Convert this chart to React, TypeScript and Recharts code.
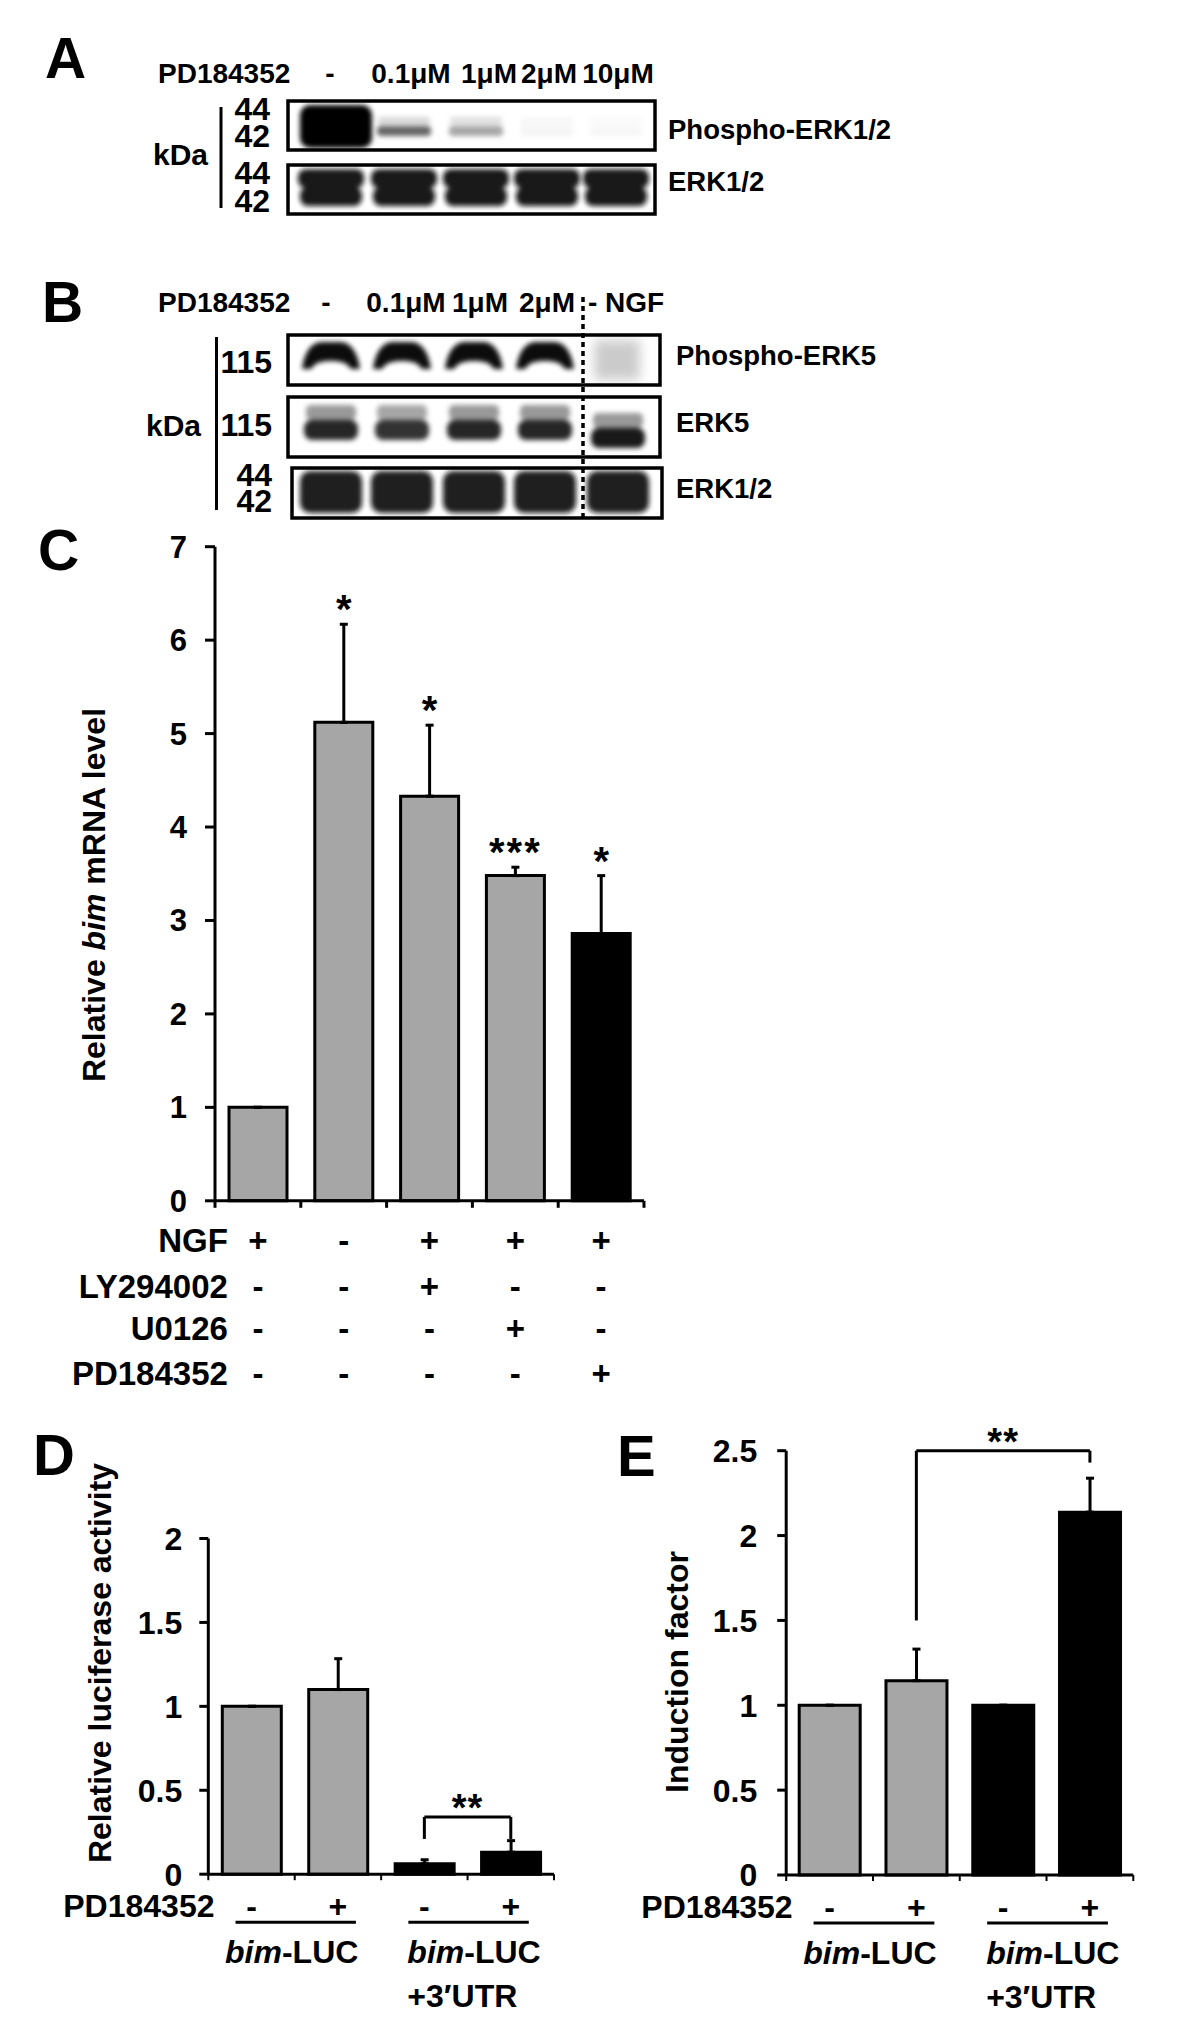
import React from "react";
import {
  ComposedChart,
  Bar,
  XAxis,
  YAxis,
  ErrorBar,
  Cell,
  LabelList,
  ReferenceLine,
} from "recharts";

const FONT = "'Liberation Sans', Arial, Helvetica, sans-serif";
const GREY = "#a6a6a6";
const INK = "#000";

// ---- panel A / B blots ----
const laneLabelsA = ["-", "0.1μM", "1μM", "2μM", "10μM"];
const laneLabelsB = ["-", "0.1μM", "1μM", "2μM"];
const pErk12Upper = [1, 0.15, 0.12, 0.03, 0.02];
const pErk12Lower = [1, 0.6, 0.35, 0.04, 0.03];
const erk12A = [0.95, 0.95, 0.95, 0.95, 0.95];
const pErk5 = [0.95, 0.95, 0.95, 0.95, 0.2];
const erk5Upper = [0.4, 0.35, 0.4, 0.4, 0.4];
const erk5Lower = [0.85, 0.8, 0.85, 0.85, 0.9];
const erk12B = [0.92, 0.92, 0.92, 0.92, 0.92];

// ---- panel C ----
const cKeys = ["c1", "c2", "c3", "c4", "c5"];
const cMean = [1, 5.12, 4.33, 3.48, 2.86];
const cErr = [0, 1.05, 0.76, 0.09, 0.62];
const cSig = ["", "*", "*", "***", "*"];
const cFill = [GREY, GREY, GREY, GREY, INK];
const cRowLabels = ["NGF", "LY294002", "U0126", "PD184352"];
const cNGF = ["+", "-", "+", "+", "+"];
const cLY = ["-", "-", "+", "-", "-"];
const cU0126 = ["-", "-", "-", "+", "-"];
const cPD = ["-", "-", "-", "-", "+"];
const cTicks = [0, 1, 2, 3, 4, 5, 6, 7];

// ---- panel D ----
const dKeys = ["d1", "d2", "d3", "d4"];
const dMean = [1, 1.1, 0.062, 0.131];
const dErr = [0, 0.184, 0.024, 0.069];
const dTicks = [0, 0.5, 1, 1.5, 2];

// ---- panel E ----
const eKeys = ["e1", "e2", "e3", "e4"];
const eMean = [1, 1.145, 1, 2.138];
const eErr = [0, 0.186, 0, 0.2];
const eTicks = [0, 0.5, 1, 1.5, 2, 2.5];

// shared D/E
const lucFill = [GREY, GREY, INK, INK];
const lucPD = ["-", "+", "-", "+"];
const lucGroupItalic = ["bim", "bim"];
const lucGroupRest = ["-LUC", "-LUC"];
const lucGroupSub = ["", "+3′UTR"];

const cData = cKeys.map((k, i) => ({ key: k, mean: cMean[i], err: [0, cErr[i]], sig: cSig[i] }));
const dData = dKeys.map((k, i) => ({ key: k, mean: dMean[i], err: [0, dErr[i]] }));
const eData = eKeys.map((k, i) => ({ key: k, mean: eMean[i], err: [0, eErr[i]] }));

const txt = { fontFamily: FONT, fontWeight: 700, fill: INK } as const;

// C: plot 215..644 wide, 5 bands
const C_HALF = (644 - 215) / 5 / 2;
const cRowDy = [51, 97, 139, 184];
const cRows = [cNGF, cLY, cU0126, cPD];

function CTick(props: any) {
  const { x, y } = props;
  const i = props.index ?? props.payload?.index ?? 0;
  return (
    <g>
      <line x1={x - C_HALF} x2={x - C_HALF} y1={y} y2={y + 7} stroke={INK} strokeWidth={3} />
      {i === cKeys.length - 1 && (
        <line x1={x + C_HALF} x2={x + C_HALF} y1={y} y2={y + 7} stroke={INK} strokeWidth={3} />
      )}
      {cRows.map((row, r) => (
        <text key={r} x={x} y={y + cRowDy[r]} textAnchor="middle" fontSize={33} {...txt}>
          {row[i]}
        </text>
      ))}
      {i === 0 &&
        cRowLabels.map((l, r) => (
          <text key={"l" + r} x={x - 30} y={y + cRowDy[r]} textAnchor="end" fontSize={33} {...txt}>
            {l}
          </text>
        ))}
    </g>
  );
}

function makeLucTick(half: number) {
  return function LucTick(props: any) {
    const { x, y } = props;
    const i = props.index ?? props.payload?.index ?? 0;
    const band = half * 2;
    const g = Math.floor(i / 2);
    return (
      <g>
        <line x1={x - half} x2={x - half} y1={y} y2={y + 6} stroke={INK} strokeWidth={2} />
        {i === 3 && <line x1={x + half} x2={x + half} y1={y} y2={y + 6} stroke={INK} strokeWidth={2} />}
        <text x={x} y={y + 42.5} textAnchor="middle" fontSize={32} {...txt}>
          {lucPD[i]}
        </text>
        {i === 0 && (
          <text x={x - 37} y={y + 42.5} textAnchor="end" fontSize={32} {...txt}>
            PD184352
          </text>
        )}
        {i % 2 === 1 && (
          <line x1={x - band - 16} x2={x + 18} y1={y + 48} y2={y + 48} stroke={INK} strokeWidth={3} />
        )}
        {i === 1 && (
          <text x={x - half - 3} y={y + 89} textAnchor="middle" fontSize={32} {...txt}>
            <tspan fontStyle="italic">{lucGroupItalic[g]}</tspan>
            {lucGroupRest[g]}
          </text>
        )}
        {i === 3 && (
          <g>
            <text x={x - band - 17} y={y + 89} textAnchor="start" fontSize={32} {...txt}>
              <tspan fontStyle="italic">{lucGroupItalic[g]}</tspan>
              {lucGroupRest[g]}
            </text>
            <text x={x - band - 17} y={y + 133} textAnchor="start" fontSize={32} {...txt}>
              {lucGroupSub[g]}
            </text>
          </g>
        )}
      </g>
    );
  };
}

const DTick = makeLucTick((554 - 208.3) / 4 / 2);
const ETick = makeLucTick((533.3 - 186.2) / 4 / 2);

function starLabel(p: any) {
  const vb = p.viewBox ?? p;
  const x = vb.x ?? p.x;
  const y = vb.y ?? p.y;
  const width = vb.width ?? p.width;
  const height = vb.height ?? p.height;
  const i = p.index;
  if (!p.value) return null;
  const errPx = (cErr[i] / cMean[i]) * height;
  return (
    <text
      x={x + width / 2}
      y={y - errPx - 1}
      textAnchor="middle"
      fontSize={40}
      letterSpacing={p.value.length > 1 ? 2 : 0}
      {...txt}
    >
      {p.value}
    </text>
  );
}

const axisStyle = { stroke: INK, strokeWidth: 3 };

function ChartC() {
  return (
    <ComposedChart width={700} height={910} data={cData} margin={{ top: 46.7, right: 56, bottom: 0, left: 0 }}>
      <XAxis
        dataKey="key"
        interval={0}
        height={209.2}
        axisLine={axisStyle}
        tickLine={false}
        tickSize={0}
        tickMargin={0}
        tick={<CTick />}
      />
      <YAxis
        domain={[0, 7]}
        ticks={cTicks}
        interval={0}
        width={215}
        axisLine={axisStyle}
        tickLine={axisStyle}
        tickSize={10}
        tickMargin={18}
        tick={{ ...txt, fontSize: 31 }}
      />
      <Bar dataKey="mean" barSize={58} stroke={INK} strokeWidth={3} isAnimationActive={false}>
        {cData.map((d, i) => (
          <Cell key={d.key} fill={cFill[i]} />
        ))}
        <ErrorBar dataKey="err" direction="y" width={4} stroke={INK} strokeWidth={3} isAnimationActive={false} />
        <LabelList dataKey="sig" content={starLabel} />
      </Bar>
    </ComposedChart>
  );
}

const starText = { ...txt, fontSize: 38, letterSpacing: 1 };

function ChartD() {
  return (
    <ComposedChart width={600} height={626} data={dData} margin={{ top: 138.5, right: 46, bottom: 0, left: 0 }}>
      <XAxis
        dataKey="key"
        interval={0}
        height={151.8}
        axisLine={axisStyle}
        tickLine={false}
        tickSize={0}
        tickMargin={0}
        tick={<DTick />}
      />
      <YAxis
        domain={[0, 2]}
        ticks={dTicks}
        interval={0}
        width={208.3}
        axisLine={axisStyle}
        tickLine={axisStyle}
        tickSize={9}
        tickMargin={17}
        tick={{ ...txt, fontSize: 32 }}
      />
      <Bar dataKey="mean" barSize={59} stroke={INK} strokeWidth={3} isAnimationActive={false}>
        {dData.map((d, i) => (
          <Cell key={d.key} fill={lucFill[i]} />
        ))}
        <ErrorBar dataKey="err" direction="y" width={4} stroke={INK} strokeWidth={3} isAnimationActive={false} />
      </Bar>
      <ReferenceLine
        segment={[{ x: "d3", y: 0.341 }, { x: "d4", y: 0.341 }]}
        stroke={INK}
        strokeWidth={3}
        label={{ value: "**", position: "top", offset: -4, ...starText }}
      />
      <ReferenceLine segment={[{ x: "d3", y: 0.21 }, { x: "d3", y: 0.341 }]} stroke={INK} strokeWidth={3} />
      <ReferenceLine segment={[{ x: "d4", y: 0.21 }, { x: "d4", y: 0.341 }]} stroke={INK} strokeWidth={3} />
    </ComposedChart>
  );
}

function ChartE() {
  return (
    <ComposedChart width={600} height={626} data={eData} margin={{ top: 50.7, right: 66.7, bottom: 0, left: 0 }}>
      <XAxis
        dataKey="key"
        interval={0}
        height={151}
        axisLine={axisStyle}
        tickLine={false}
        tickSize={0}
        tickMargin={0}
        tick={<ETick />}
      />
      <YAxis
        domain={[0, 2.5]}
        ticks={eTicks}
        interval={0}
        width={186.2}
        axisLine={axisStyle}
        tickLine={axisStyle}
        tickSize={9}
        tickMargin={20}
        tick={{ ...txt, fontSize: 32 }}
      />
      <Bar dataKey="mean" barSize={61} stroke={INK} strokeWidth={3} isAnimationActive={false}>
        {eData.map((d, i) => (
          <Cell key={d.key} fill={lucFill[i]} />
        ))}
        <ErrorBar dataKey="err" direction="y" width={4} stroke={INK} strokeWidth={3} isAnimationActive={false} />
      </Bar>
      <ReferenceLine
        segment={[{ x: "e2", y: 2.5 }, { x: "e4", y: 2.5 }]}
        stroke={INK}
        strokeWidth={3}
        ifOverflow="visible"
        label={{ value: "**", position: "top", offset: -4, ...starText }}
      />
      <ReferenceLine segment={[{ x: "e2", y: 1.5 }, { x: "e2", y: 2.5 }]} stroke={INK} strokeWidth={3} />
      <ReferenceLine segment={[{ x: "e4", y: 2.43 }, { x: "e4", y: 2.5 }]} stroke={INK} strokeWidth={3} ifOverflow="visible" />
    </ComposedChart>
  );
}

// lane centres (layout only)
const laneXA = [331, 404, 476, 547, 616];
const laneXB = [331, 402, 474, 545, 618];
const laneLabelXA = [330, 411, 489, 549, 618];
const laneLabelXB = [326, 406, 480, 547];

// flat-topped arch used for the phospho-ERK5 bands
const archPath = (c: number) =>
  `M ${c - 29} 369 C ${c - 27} 354 ${c - 21} 343 ${c - 10} 342 L ${c + 10} 342 ` +
  `C ${c + 21} 343 ${c + 27} 354 ${c + 29} 369 L ${c + 20} 369 ` +
  `C ${c + 16} 363 ${c + 11} 361 ${c} 361 C ${c - 11} 361 ${c - 16} 363 ${c - 20} 369 Z`;

function Blots() {
  return (
    <g>
      <defs>
        <filter id="b2" x="-20%" y="-40%" width="140%" height="180%">
          <feGaussianBlur stdDeviation="2.5" />
        </filter>
        <filter id="b5" x="-30%" y="-50%" width="160%" height="200%">
          <feGaussianBlur stdDeviation="6" />
        </filter>
        <clipPath id="ka1"><rect x={288} y={101} width={367} height={49} /></clipPath>
        <clipPath id="ka2"><rect x={288} y={165} width={367} height={49} /></clipPath>
        <clipPath id="kb1"><rect x={288} y={335} width={372} height={50} /></clipPath>
        <clipPath id="kb2"><rect x={288} y={397} width={372} height={60} /></clipPath>
        <clipPath id="kb3"><rect x={292} y={468} width={370} height={50} /></clipPath>
      </defs>
      {/* A: phospho-ERK1/2 */}
      <g clipPath="url(#ka1)">
        {laneXA.map((c, i) =>
          i === 0 ? (
            <rect key={i} x={300} y={105} width={72} height={43} rx={10} fill="#000" opacity={pErk12Lower[0]} filter="url(#b2)" />
          ) : (
            <g key={i} filter="url(#b2)">
              <rect x={c - 26} y={117} width={52} height={8} rx={3} fill="#000" opacity={pErk12Upper[i]} />
              <rect x={c - 27} y={126} width={54} height={10} rx={4} fill="#000" opacity={pErk12Lower[i]} />
            </g>
          )
        )}
      </g>
      {/* A: ERK1/2 */}
      <g clipPath="url(#ka2)">
        {laneXA.map((c, i) => (
          <g key={i} filter="url(#b2)" opacity={erk12A[i]}>
            <rect x={c - 33} y={169} width={66} height={19} rx={8} fill="#111" />
            <rect x={c - 31} y={187} width={62} height={19} rx={8} fill="#111" />
          </g>
        ))}
      </g>
      {/* B: phospho-ERK5 */}
      <g clipPath="url(#kb1)">
        {laneXB.map((c, i) =>
          i < 4 ? (
            <path key={i} d={archPath(c)} fill="#000" opacity={pErk5[i]} filter="url(#b2)" />
          ) : (
            <rect key={i} x={c - 24} y={340} width={46} height={40} fill="#000" opacity={pErk5[i]} filter="url(#b5)" />
          )
        )}
      </g>
      {/* B: ERK5 */}
      <g clipPath="url(#kb2)">
        {laneXB.map((c, i) => {
          const dy = i === 4 ? 8 : 0;
          return (
            <g key={i} filter="url(#b2)">
              <rect x={c - 25} y={405 + dy} width={50} height={15} rx={5} fill="#000" opacity={erk5Upper[i]} />
              <rect x={c - 27} y={420 + dy} width={54} height={20} rx={8} fill="#000" opacity={erk5Lower[i]} />
            </g>
          );
        })}
      </g>
      {/* B: ERK1/2 */}
      <g clipPath="url(#kb3)">
        {laneXB.map((c, i) => (
          <rect key={i} x={c - 31} y={471} width={62} height={42} rx={10} fill="#111" opacity={erk12B[i]} filter="url(#b2)" />
        ))}
      </g>
      {/* box frames */}
      <g fill="none" stroke="#000" strokeWidth={3.5}>
        <rect x={288} y={101} width={367} height={49} />
        <rect x={288} y={165} width={367} height={49} />
        <rect x={288} y={335} width={372} height={50} />
        <rect x={288} y={397} width={372} height={60} />
        <rect x={292} y={468} width={370} height={50} />
      </g>
      <line x1={583} x2={583} y1={297} y2={518} stroke="#000" strokeWidth={3.5} strokeDasharray="5 4" />
    </g>
  );
}

function Overlay() {
  return (
    <svg width={1200} height={2026} style={{ position: "absolute", left: 0, top: 0, pointerEvents: "none" }}>
      <Blots />
      {/* panel letters */}
      <text x={45} y={78} fontSize={57} {...txt}>A</text>
      <text x={42} y={322} fontSize={57} {...txt}>B</text>
      <text x={38} y={570} fontSize={57} {...txt}>C</text>
      <text x={33} y={1475} fontSize={58} {...txt}>D</text>
      <text x={617} y={1476} fontSize={58} {...txt}>E</text>

      {/* A labels */}
      <text x={158} y={83} fontSize={28} {...txt}>PD184352</text>
      {laneLabelsA.map((l, i) => (
        <text key={i} x={laneLabelXA[i]} y={83} textAnchor="middle" fontSize={28} {...txt}>{l}</text>
      ))}
      <text x={270} y={120} textAnchor="end" fontSize={32} {...txt}>44</text>
      <text x={270} y={147} textAnchor="end" fontSize={32} {...txt}>42</text>
      <text x={270} y={184} textAnchor="end" fontSize={32} {...txt}>44</text>
      <text x={270} y={212} textAnchor="end" fontSize={32} {...txt}>42</text>
      <text x={208} y={165} textAnchor="end" fontSize={30} {...txt}>kDa</text>
      <line x1={221} x2={221} y1={107} y2={208} stroke="#000" strokeWidth={3} />
      <text x={668} y={139} fontSize={27.5} {...txt}>Phospho-ERK1/2</text>
      <text x={668} y={191} fontSize={27.5} {...txt}>ERK1/2</text>

      {/* B labels */}
      <text x={158} y={312} fontSize={28} {...txt}>PD184352</text>
      {laneLabelsB.map((l, i) => (
        <text key={i} x={laneLabelXB[i]} y={312} textAnchor="middle" fontSize={28} {...txt}>{l}</text>
      ))}
      <text x={588} y={312} fontSize={28} {...txt}>- NGF</text>
      <text x={272} y={373} textAnchor="end" fontSize={32} {...txt}>115</text>
      <text x={272} y={436} textAnchor="end" fontSize={32} {...txt}>115</text>
      <text x={201} y={436} textAnchor="end" fontSize={30} {...txt}>kDa</text>
      <text x={272} y={486} textAnchor="end" fontSize={32} {...txt}>44</text>
      <text x={272} y={512} textAnchor="end" fontSize={32} {...txt}>42</text>
      <line x1={216.5} x2={216.5} y1={337} y2={510} stroke="#000" strokeWidth={3} />
      <text x={676} y={365} fontSize={27.5} {...txt}>Phospho-ERK5</text>
      <text x={676} y={432} fontSize={27.5} {...txt}>ERK5</text>
      <text x={676} y={498} fontSize={27.5} {...txt}>ERK1/2</text>

      {/* axis titles */}
      <text transform="translate(105,895) rotate(-90)" textAnchor="middle" fontSize={32} {...txt}>
        Relative <tspan fontStyle="italic">bim</tspan> mRNA level
      </text>
      <text transform="translate(111,1663) rotate(-90)" textAnchor="middle" fontSize={32} {...txt}>
        Relative luciferase activity
      </text>
      <text transform="translate(688,1672) rotate(-90)" textAnchor="middle" fontSize={32} {...txt}>
        Induction factor
      </text>
    </svg>
  );
}

export default function App() {
  return (
    <div style={{ position: "absolute", left: 0, top: 0, width: 1200, height: 2026, background: "#fff", overflow: "hidden" }}>
      <div style={{ position: "absolute", left: 0, top: 500 }}>
        <ChartC />
      </div>
      <div style={{ position: "absolute", left: 0, top: 1400 }}>
        <ChartD />
      </div>
      <div style={{ position: "absolute", left: 600, top: 1400 }}>
        <ChartE />
      </div>
      <Overlay />
    </div>
  );
}
